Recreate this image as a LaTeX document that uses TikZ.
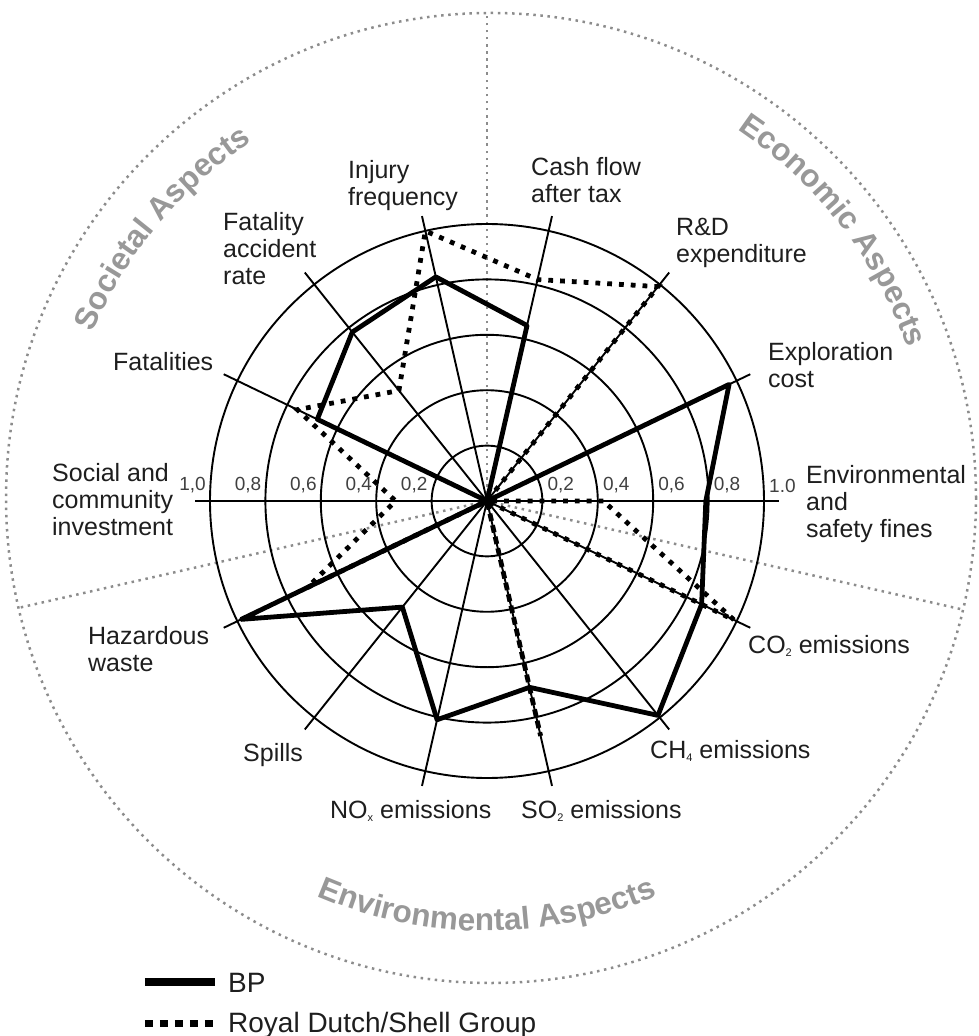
\documentclass[tikz,border=0pt]{standalone}
\usepackage{fontspec}
\setmainfont{Liberation Sans}
\usetikzlibrary{decorations.text}

\definecolor{aspgray}{RGB}{152,152,152}
\definecolor{dotgray}{RGB}{140,140,140}
\definecolor{lblblack}{RGB}{30,30,30}

\newcommand{\lblfont}{\fontsize{25}{27}\selectfont}
\newcommand{\tickfont}{\fontsize{19}{21}\selectfont}
\newcommand{\aspfont}{\fontsize{31.5}{33}\selectfont\bfseries}
\newcommand{\legfont}{\fontsize{28}{30}\selectfont}
\newcommand{\lowidx}[1]{\raisebox{-3pt}{\fontsize{11}{11}\selectfont #1}}

\tikzset{
  ringline/.style={line width=1.9pt,black},
  bpline/.style={line width=4.8pt,line join=round,black},
  shellline/.style={line width=4.8pt,dash pattern=on 4.8pt off 7pt,black},
  divider/.style={line width=2.5pt,dotgray,dash pattern=on 2.5pt off 4.6pt},
  lbl/.style={font=\lblfont,text=lblblack,align=left,inner sep=0pt},
  tick/.style={font=\tickfont,text=black!75,inner sep=0pt},
  aspect/.style={decorate,decoration={text along path,text align=center,
    text={|\aspfont\color{aspgray}|#1}}}
}

\begin{document}
\begin{tikzpicture}[x=1pt,y=1pt]
\useasboundingbox (-487,-535) rectangle (491,501);
\def\ang{25.7143}

% Outer circle and dividers between the aspects
\draw[divider] (4,3) circle (485);
\draw[divider] (0,0) -- (90:488);
\draw[divider] (0,0) -- (192.857:480);
\draw[divider] (0,0) -- (-12.857:488);

% Aspect titles along the circle
\path[aspect={Societal Aspects}] (175:429) arc[start angle=175,end angle=105,radius=429];
\path[aspect={Economic Aspects}] (73:448) arc[start angle=73,end angle=3,radius=448];
\path[aspect={Environmental Aspects}] (235:430) arc[start angle=235,end angle=305,radius=430];

% Rings, spokes and the two companies
\begin{scope}[scale=277]
\foreach \r in {0.2,0.4,0.6,0.8,1.0}
  \draw[ringline] (0,0) circle (\r);
\foreach \k in {0,...,13}
  \draw[ringline] (0,0) -- ({\k*\ang}:1.055);

% BP
\draw[bpline] (0:0.79) -- ({\ang}:0.97) -- (0,0) -- ({3*\ang}:0.65)
  -- ({4*\ang}:0.83) -- ({5*\ang}:0.78) -- ({6*\ang}:0.68) -- (0,0)
  -- ({8*\ang}:0.985) -- ({9*\ang}:0.49) -- ({10*\ang}:0.81)
  -- ({11*\ang}:0.69) -- ({12*\ang}:0.99) -- ({13*\ang}:0.86) -- cycle;

% Royal Dutch/Shell
\draw[shellline] (0:0.42) -- (0,0) -- ({2*\ang}:0.99) -- ({3*\ang}:0.82)
  -- ({4*\ang}:1.0) -- ({5*\ang}:0.51) -- ({6*\ang}:0.76) -- ({7*\ang}:0.33)
  -- ({8*\ang}:0.72) -- (0,0) -- ({11*\ang}:0.87) -- (0,0)
  -- ({13*\ang}:0.99) -- cycle;
\end{scope}

% Scale values
\foreach \d in {2,4,6,8} {
  \node[tick,anchor=south west] (tr\d) at ({\d*27.7+5},8) {0,\d};
  \node[tick,anchor=south east] (tl\d) at ({-\d*27.7-4},8) {0,\d};
}
\node[tick,anchor=south west] (tr10) at (282,8) {1.0};
\node[tick,anchor=south east] (tl10) at (-281,8) {1,0};

% Indicator labels
\node[lbl,anchor=north west] (injury) at (-139,341) {Injury\\frequency};
\node[lbl,anchor=north west] (cash) at (44,344) {Cash flow\\after tax};
\node[lbl,anchor=north west] (rnd) at (189,283) {R\&D\\expenditure};
\node[lbl,anchor=north west] (explore) at (281,159) {Exploration\\cost};
\node[lbl,anchor=north west] (fines) at (319,36) {Environmental\\and\\safety fines};
\node[lbl,anchor=north west] (co2) at (261,-134) {CO\lowidx{2} emissions};
\node[lbl,anchor=north west] (ch4) at (163,-239) {CH\lowidx{4} emissions};
\node[lbl,anchor=north west] (so2) at (34,-299) {SO\lowidx{2} emissions};
\node[lbl,anchor=north west] (nox) at (-157,-299) {NO\lowidx{x} emissions};
\node[lbl,anchor=north west] (spills) at (-244,-242) {Spills};
\node[lbl,anchor=north west] (hazard) at (-399,-125) {Hazardous\\waste};
\node[lbl,anchor=north west] (social) at (-435,38) {Social and\\community\\investment};
\node[lbl,anchor=north west] (fatal) at (-374,149) {Fatalities};
\node[lbl,anchor=north west] (far) at (-264,289) {Fatality\\accident\\rate};

% Legend
\coordinate (bpa) at (-342,-481);
\coordinate (bpb) at (-272,-481);
\coordinate (sha) at (-342,-522);
\coordinate (shb) at (-272,-522);
\draw[line width=8pt] (bpa) -- (bpb);
\draw[line width=7pt,dash pattern=on 8pt off 7pt] (sha) -- (shb);
\node[font=\legfont,text=lblblack,inner sep=0pt,anchor=base west] (bpkey) at (-259,-491) {BP};
\node[font=\legfont,text=lblblack,inner sep=0pt,anchor=base west] (shkey) at (-259,-531) {Royal Dutch/Shell Group};
\end{tikzpicture}
\end{document}
